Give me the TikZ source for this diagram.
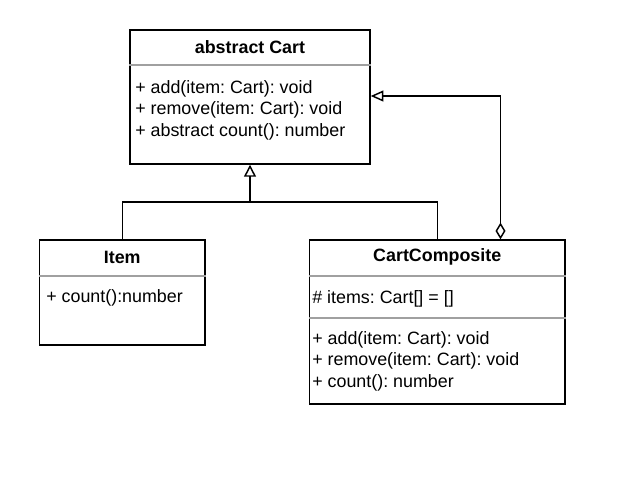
\documentclass[tikz,border=0pt]{standalone}
\usepackage{fontspec}
\setmainfont{Liberation Sans}
\usetikzlibrary{arrows.meta}
\frenchspacing
\begin{document}
\begin{tikzpicture}[x=0.75pt,y=-0.75pt,
  box/.style={draw=black,line width=1.1pt,fill=white},
  sep/.style={draw={rgb,255:red,160;green,160;blue,160},line width=0.8pt},
  ttl/.style={font=\fontsize{13.4}{16}\selectfont\bfseries,inner sep=0pt},
  txt/.style={font=\fontsize{13.4}{16}\selectfont,inner sep=0pt,anchor=west},
  conn/.style={draw=black,line width=1.1pt},
  inh/.style={-{Triangle[open,length=9pt,width=9pt,line width=1.1pt]}},
  agg/.style={{Diamond[open,length=12.5pt,width=7.5pt,line width=1.1pt]}-{Triangle[open,length=9.5pt,width=8.2pt,line width=1.1pt]}}
]
\useasboundingbox (0,0) rectangle (628,476);

% abstract Cart
\node[box,minimum width=240*0.75pt,minimum height=134*0.75pt,inner sep=0pt] (cart) at (250,97) {};
\draw[sep] (cart.west |- 0,65) -- (cart.east |- 0,65);
\node[ttl] (cartT) at (250,47) {abstract Cart};
\node[txt] (cart1) at (135,88.5) {+ add(item: Cart): void};
\node[txt] (cart2) at (135,110) {+ remove(item: Cart): void};
\node[txt] (cart3) at (135,131.5) {+ abstract count(): number};

% Item
\node[box,minimum width=165.5*0.75pt,minimum height=105*0.75pt,inner sep=0pt] (item) at (122.25,292.5) {};
\draw[sep] (item.west |- 0,276) -- (item.east |- 0,276);
\node[ttl] (itemT) at (122.25,257) {Item};
\node[txt] (item1) at (46,297.5) {+ count():number};

% CartComposite
\node[box,minimum width=255.5*0.75pt,minimum height=164*0.75pt,inner sep=0pt] (cc) at (437.25,322) {};
\draw[sep] (cc.west |- 0,276) -- (cc.east |- 0,276);
\draw[sep] (cc.west |- 0,318) -- (cc.east |- 0,318);
\node[ttl] (ccT) at (437.25,257) {CartComposite};
\node[txt] (cc0) at (312,299) {\# items: Cart[] = []};
\node[txt] (cc1) at (312,339.5) {+ add(item: Cart): void};
\node[txt] (cc2) at (312,360.5) {+ remove(item: Cart): void};
\node[txt] (cc3) at (312,382.5) {+ count(): number};

% inheritance
\coordinate (j) at (250,202);
\draw[conn,inh] (item.north) |- (j) -- (cart.south);
\draw[conn] (cc.north) |- (j);

% aggregation
\coordinate (aggx) at (500.5,96);
\draw[conn,agg] (cc.north -| aggx) -- (aggx) -- (cart.east |- aggx);
\end{tikzpicture}
\end{document}
